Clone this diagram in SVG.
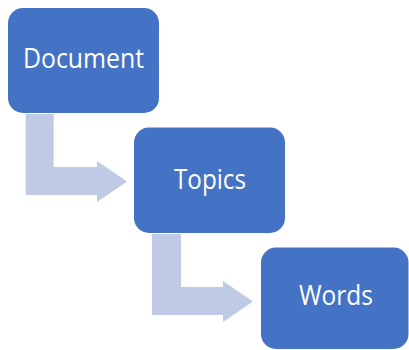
<svg xmlns="http://www.w3.org/2000/svg" width="409" height="350" viewBox="0 0 409 350">
<style>
.box{fill:#4472C4;}
.lbl{fill:#FFFFFF;font-family:"Open Sans","Liberation Sans",sans-serif;font-size:26.5px;text-anchor:middle;}
.arr{fill:#BFCAE4;}
</style>
<rect width="409" height="350" fill="#FFFFFF"/>
<g id="connectors">
<path class="arr" d="M25.7,114 H53.7 V167 H97 V161 L127,181.5 L97,202 V195 H25.7 Z"/>
<path class="arr" d="M152,234 H181 V287 H223 V281 L253,301.5 L223,322 V315 H152 Z"/>
</g>
<g id="node-document">
<rect class="box" x="8" y="8" width="151" height="105" rx="15"/>
<text class="lbl" x="83.5" y="68" textLength="121" lengthAdjust="spacingAndGlyphs">Document</text>
</g>
<g id="node-topics">
<rect class="box" x="134" y="127.5" width="151" height="105.5" rx="15"/>
<text class="lbl" x="210" y="189" textLength="72" lengthAdjust="spacingAndGlyphs">Topics</text>
</g>
<g id="node-words">
<rect class="box" x="261" y="247.5" width="147.5" height="101.5" rx="15"/>
<text class="lbl" x="336" y="305" textLength="74" lengthAdjust="spacingAndGlyphs">Words</text>
</g>
</svg>
